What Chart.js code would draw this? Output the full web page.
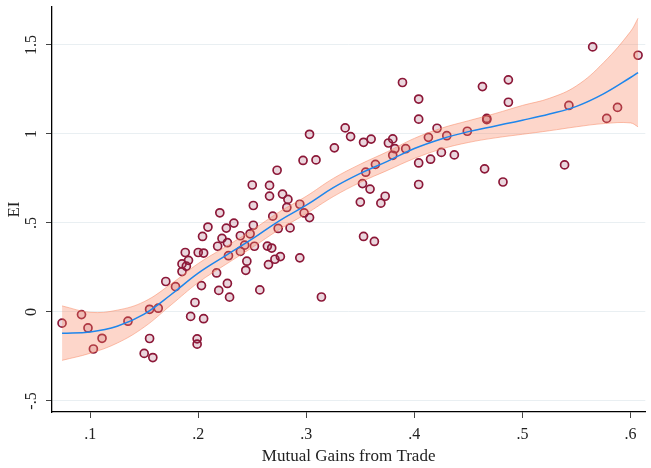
<!DOCTYPE html>
<html>
<head>
<meta charset="utf-8">
<script src="https://cdn.jsdelivr.net/npm/chart.js@4.4.0/dist/chart.umd.min.js"></script>
<style>
  html, body { margin: 0; padding: 0; background: #fff; }
  #wrap { width: 651px; height: 468px; }
</style>
</head>
<body>
<div id="wrap"><canvas id="chart" width="651" height="468"></canvas></div>
<script>
// Points (Mutual Gains from Trade, EI)
const gainsX = [
    0.074, 0.092, 0.098, 0.103, 0.111, 0.135, 0.155, 0.163, 0.155, 0.150,
    0.158, 0.170, 0.179, 0.185, 0.185, 0.188, 0.189, 0.191, 0.197, 0.193,
    0.199, 0.199, 0.203, 0.205, 0.200, 0.205, 0.204, 0.217, 0.219, 0.227,
    0.229, 0.228, 0.218, 0.222, 0.227, 0.226, 0.239, 0.239, 0.243, 0.245,
    0.244, 0.248, 0.252, 0.257, 0.265, 0.264, 0.268, 0.271, 0.276, 0.294,
    0.314, 0.353, 0.363, 0.303, 0.297, 0.309, 0.273, 0.250, 0.266, 0.266,
    0.278, 0.283, 0.251, 0.294, 0.282, 0.298, 0.303, 0.220, 0.269, 0.233,
    0.209, 0.251, 0.274, 0.285, 0.389, 0.404, 0.404, 0.336, 0.341, 0.326,
    0.353, 0.360, 0.376, 0.380, 0.382, 0.380, 0.392, 0.413, 0.421, 0.430,
    0.425, 0.415, 0.404, 0.437, 0.449, 0.463, 0.467, 0.467, 0.487, 0.487,
    0.465, 0.482, 0.539, 0.543, 0.565, 0.578, 0.588, 0.607, 0.364, 0.355,
    0.352, 0.359, 0.350, 0.369, 0.373, 0.404
];
const eiY = [
    -0.063, -0.015, -0.090, -0.208, -0.148, -0.052, 0.015, 0.021, -0.149, -0.233,
    -0.256, 0.171, 0.142, 0.227, 0.270, 0.334, 0.257, 0.290, 0.053, -0.025,
    -0.151, -0.181, 0.148, -0.038, 0.334, 0.331, 0.424, 0.219, 0.121, 0.160,
    0.083, 0.316, 0.369, 0.413, 0.389, 0.471, 0.428, 0.340, 0.375, 0.285,
    0.234, 0.439, 0.369, 0.124, 0.266, 0.370, 0.359, 0.296, 0.311, 0.304,
    0.084, 0.424, 0.396, 0.998, 0.851, 0.854, 0.796, 0.713, 0.711, 0.651,
    0.662, 0.632, 0.598, 0.605, 0.587, 0.556, 0.530, 0.557, 0.538, 0.499,
    0.477, 0.487, 0.469, 0.472, 1.289, 1.196, 1.083, 1.034, 0.985, 0.922,
    0.953, 0.971, 0.949, 0.972, 0.917, 0.880, 0.917, 0.981, 1.032, 0.990,
    0.896, 0.858, 0.837, 0.882, 1.015, 1.266, 1.087, 1.080, 1.304, 1.178,
    0.804, 0.730, 0.826, 1.160, 1.489, 1.087, 1.149, 1.442, 0.829, 0.785,
    0.721, 0.690, 0.617, 0.611, 0.650, 0.716
];

// Fitted curve and confidence band
const fitX   = [0.074, 0.1, 0.125, 0.15, 0.175, 0.2, 0.225, 0.25, 0.275, 0.3, 0.325, 0.35,
                0.375, 0.4, 0.425, 0.45, 0.475, 0.5, 0.525, 0.55, 0.575, 0.6, 0.607];
const fitY   = [-0.120, -0.112, -0.080, -0.012, 0.098, 0.218, 0.315, 0.410, 0.512, 0.600, 0.698, 0.778,
                0.846, 0.918, 0.972, 1.013, 1.045, 1.077, 1.112, 1.155, 1.225, 1.317, 1.345];
const bandLo = [-0.272, -0.232, -0.175, -0.085, 0.040, 0.165, 0.265, 0.362, 0.463, 0.552, 0.648, 0.728,
                0.795, 0.862, 0.915, 0.952, 0.978, 0.998, 1.018, 1.040, 1.058, 1.062, 1.040];
const bandHi = [0.034, -0.002, 0.010, 0.058, 0.158, 0.272, 0.365, 0.460, 0.562, 0.650, 0.750, 0.830,
                0.900, 0.975, 1.032, 1.074, 1.115, 1.160, 1.200, 1.270, 1.400, 1.575, 1.650];

// Axes
const xTicks = [0.1, 0.2, 0.3, 0.4, 0.5, 0.6];
const xTickLabels = ['.1', '.2', '.3', '.4', '.5', '.6'];
const yTicks = [-0.5, 0, 0.5, 1, 1.5];
const yTickLabels = ['-.5', '0', '.5', '1', '1.5'];

const serif = '"Liberation Serif", "DejaVu Serif", serif';

const pts = (xs, ys) => xs.map((x, i) => ({ x: x, y: ys[i] }));

// y tick labels are drawn rotated, like the original
const rotatedYLabels = {
    id: 'rotatedYLabels',
    afterDraw(chart) {
        const ctx = chart.ctx;
        const y = chart.scales.y;
        ctx.save();
        ctx.font = '16px ' + serif;
        ctx.fillStyle = '#222';
        ctx.textAlign = 'center';
        ctx.textBaseline = 'middle';
        yTicks.forEach((v, i) => {
            ctx.save();
            ctx.translate(32, y.getPixelForValue(v));
            ctx.rotate(-Math.PI / 2);
            ctx.fillText(yTickLabels[i], 0, 0);
            ctx.restore();
        });
        ctx.restore();
    }
};

new Chart(document.getElementById('chart'), {
    type: 'scatter',
    data: {
        datasets: [
            {
                type: 'line',
                data: pts(fitX, fitY),
                borderColor: '#1e86ec',
                borderWidth: 1.5,
                pointRadius: 0,
                tension: 0.4,
                fill: false,
                order: 1
            },
            {
                type: 'line',
                data: pts(fitX, bandLo),
                borderColor: 'rgba(248,140,105,0.55)',
                borderWidth: 1,
                pointRadius: 0,
                tension: 0.4,
                fill: false,
                order: 2
            },
            {
                type: 'line',
                data: pts(fitX, bandHi),
                borderColor: 'rgba(248,140,105,0.55)',
                backgroundColor: 'rgba(250,128,90,0.32)',
                borderWidth: 1,
                pointRadius: 0,
                tension: 0.4,
                fill: '-1',
                order: 2
            },
            {
                data: pts(gainsX, eiY),
                pointRadius: 4,
                borderWidth: 1.7,
                borderColor: '#8c1838',
                backgroundColor: 'rgba(150,50,85,0.2)',
                order: 3
            }
        ]
    },
    options: {
        responsive: false,
        animation: false,
        layout: { padding: { top: 7, left: 0, right: 0, bottom: 0 } },
        plugins: { legend: { display: false }, tooltip: { enabled: false } },
        scales: {
            x: {
                type: 'linear',
                min: 0.0647,
                max: 0.6137,
                afterBuildTicks: s => { s.ticks = xTicks.map(v => ({ value: v })); },
                afterFit: s => { s.height = 56; },
                ticks: {
                    callback: v => xTickLabels[xTicks.indexOf(v)],
                    font: { family: serif, size: 16 },
                    color: '#222',
                    padding: 7,
                    maxRotation: 0,
                    autoSkip: false
                },
                grid: { drawOnChartArea: false, drawTicks: true, tickLength: 6, tickColor: '#444' },
                border: { display: true, color: '#000', width: 1.3 },
                title: {
                    display: true,
                    text: 'Mutual Gains from Trade',
                    font: { family: serif, size: 17 },
                    color: '#222',
                    padding: { top: 0, bottom: 1 }
                }
            },
            y: {
                min: -0.562,
                max: 1.713,
                afterBuildTicks: s => { s.ticks = yTicks.map(v => ({ value: v })); },
                afterFit: s => { s.width = 52; },
                ticks: { display: false },
                grid: { color: '#e9eff2', lineWidth: 1, drawTicks: true, tickLength: 6, tickColor: '#444' },
                border: { display: true, color: '#000', width: 1.3 },
                title: {
                    display: true,
                    text: 'EI',
                    font: { family: serif, size: 17 },
                    color: '#222',
                    padding: { top: 4, bottom: 0 }
                }
            }
        }
    },
    plugins: [rotatedYLabels]
});
</script>
</body>
</html>
